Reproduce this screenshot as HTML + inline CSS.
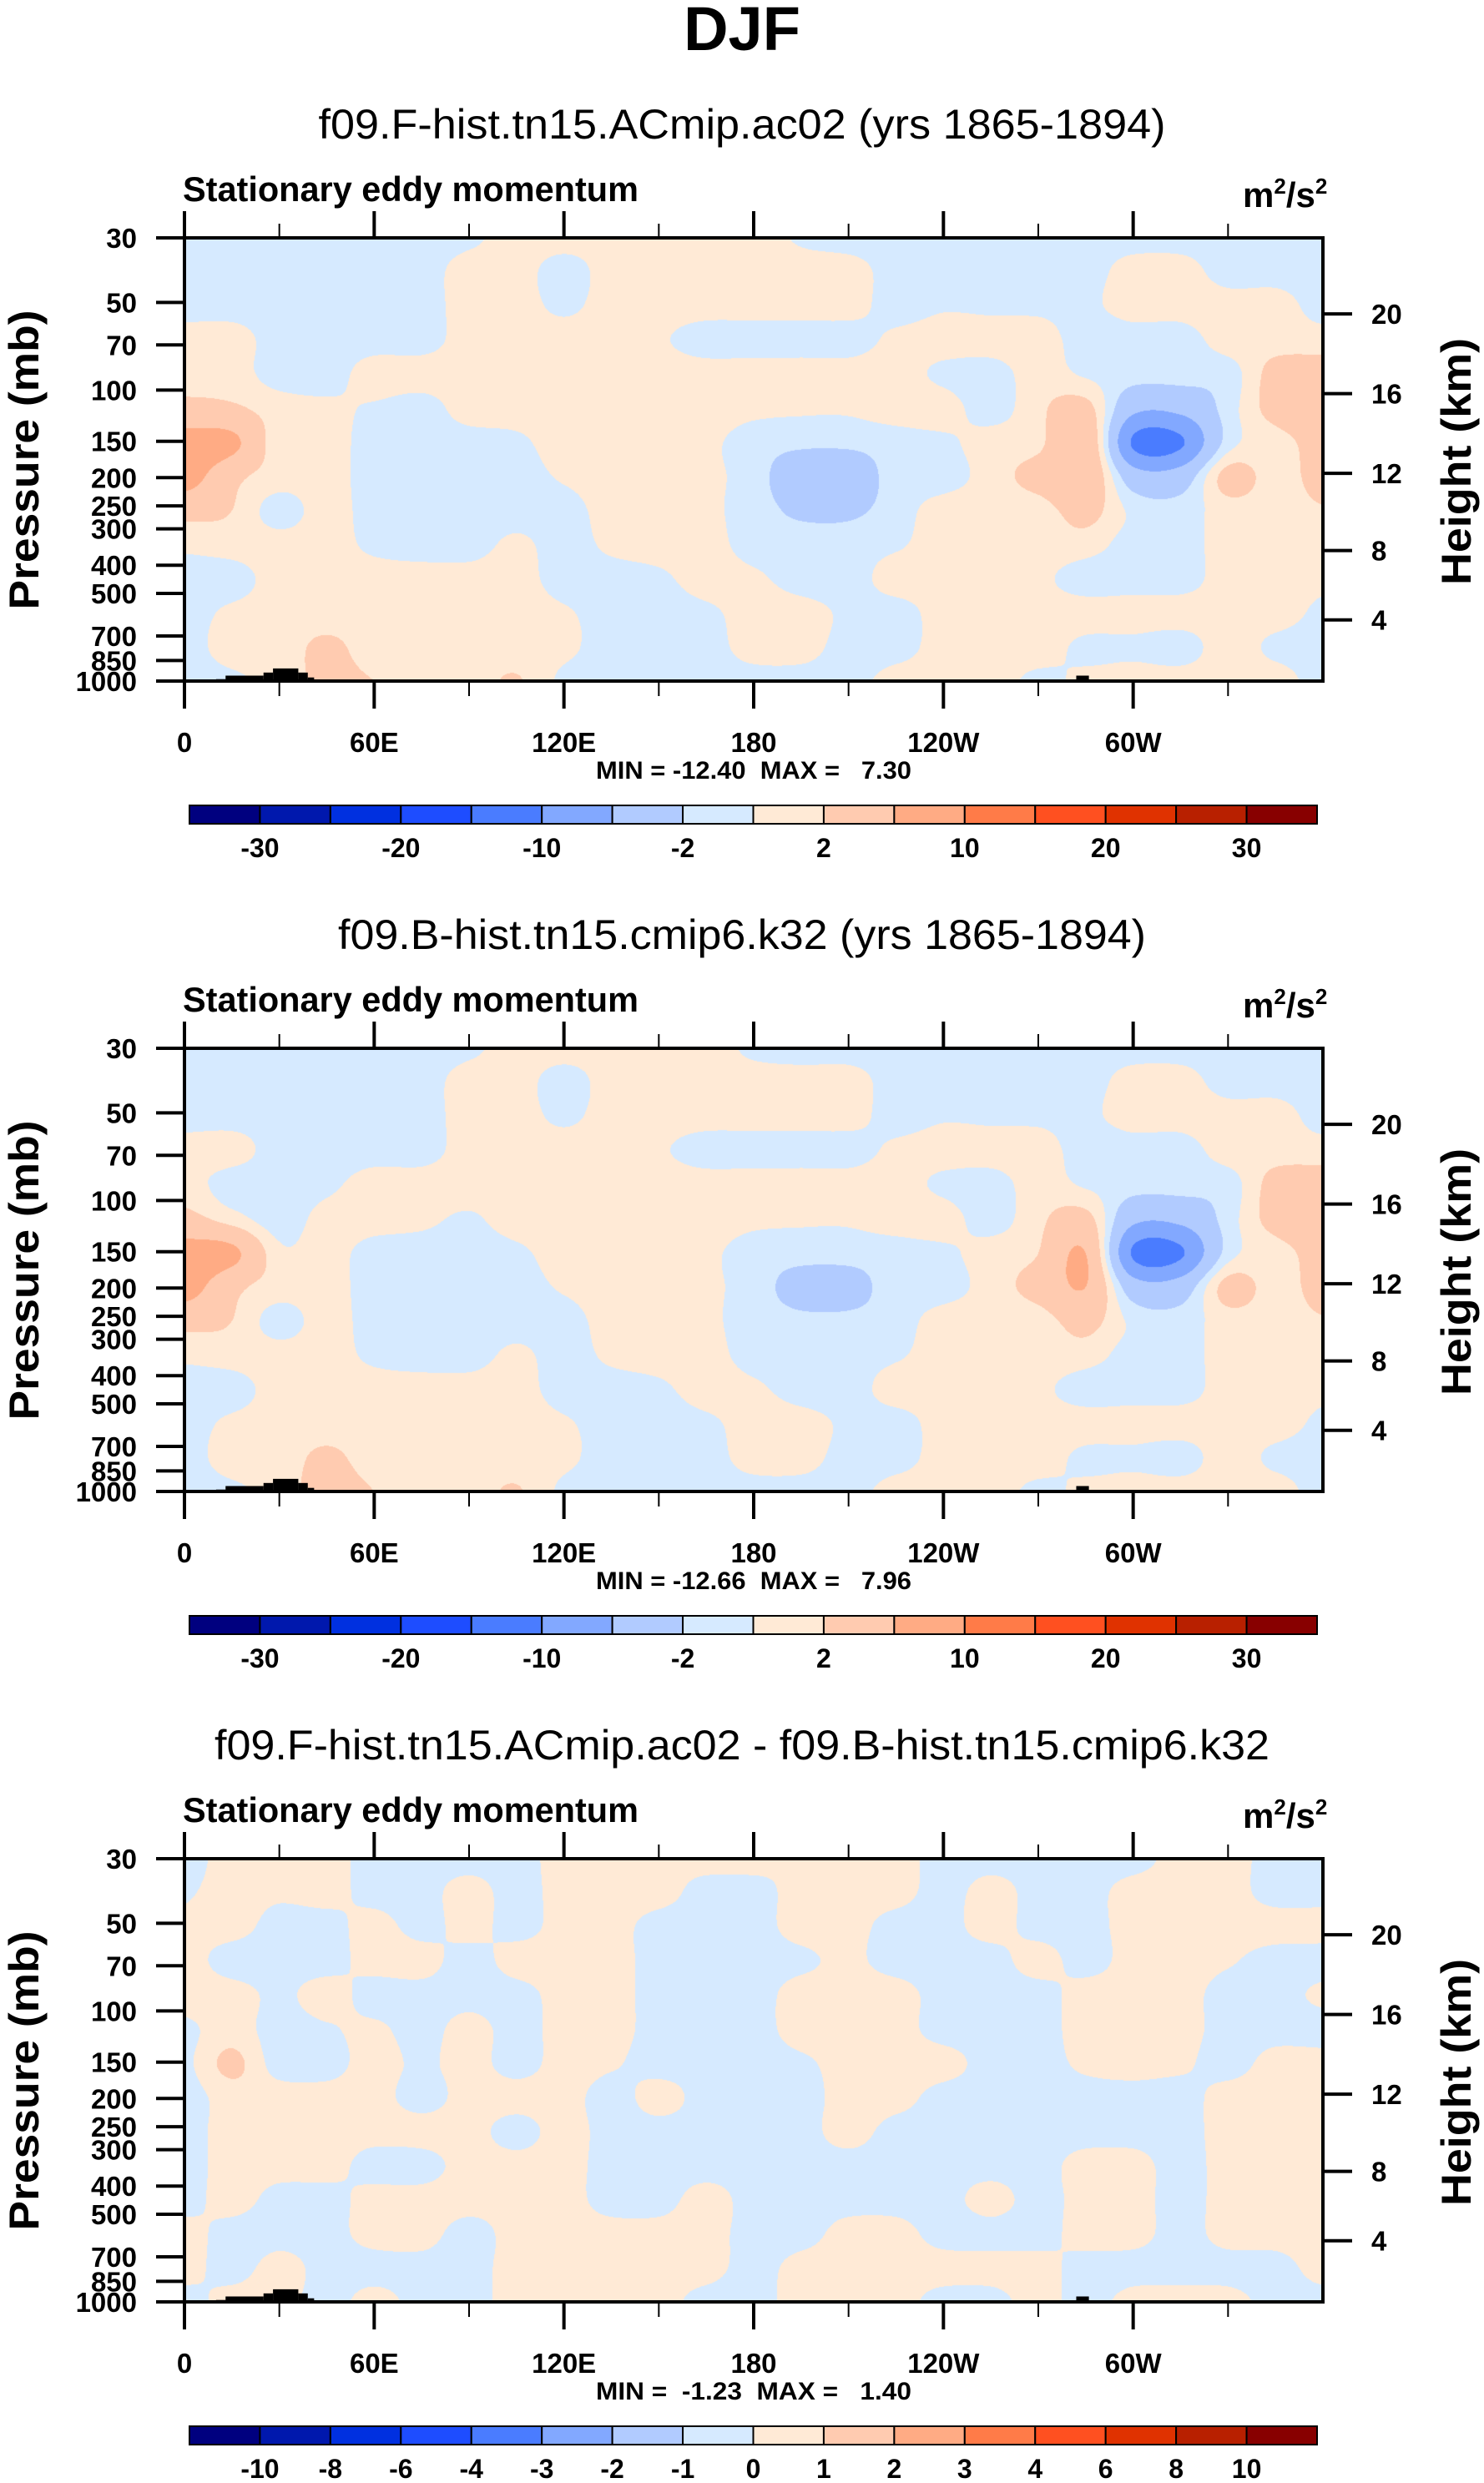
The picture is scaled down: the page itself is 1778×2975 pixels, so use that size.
<!DOCTYPE html>
<html><head><meta charset="utf-8"><title>DJF Stationary eddy momentum</title>
<style>
html,body{margin:0;padding:0;background:#fff;}
#page{position:relative;width:1778px;height:2975px;overflow:hidden;background:#fff;}
canvas{position:absolute;}
svg{position:absolute;left:0;top:0;}
text{font-family:"Liberation Sans",Arial,sans-serif;fill:#000;}
</style></head>
<body>
<div id="page">
<canvas id="c0"></canvas>
<canvas id="c1"></canvas>
<canvas id="c2"></canvas>
<svg id="ov" width="1778" height="2975" xmlns="http://www.w3.org/2000/svg">
<text x="889" y="60" text-anchor="middle" font-size="74" font-weight="bold">DJF</text>
</svg>
</div>
<script>
// ---------- data ----------
const gridLon = [0,15,30,45,60,75,90,105,120,135,150,165,180,195,210,225,240,255,270,285,300,315,330,345,360];
const gridP = [30,39,51,67,88,116,152,198,260,340,446,584,765,1000];

const valuesAc02 = [
[-1,-1,-1,-1,-1,-1,-0.5,1,1,1,1,1,1,-0.3,-1,-1,-1,-1,-1,-1,-1,-1,-1,-1,-1],
[-1,-1,-1,-1,-1,-1,1,1,-1,1,1,1,1,1,1,-1,-1,-1,-1,-1,1,1,-1,-1,-1],
[-1,-1,-1,-1,-1,-1,1,1,-0.5,1,1,1,1,1,1,-1,-0.3,-0.5,-0.5,-0.5,1,1,1,1,-1],
[1,1,-1,-1,-1,-1,1,1,1,1,0.3,-1,-1,-1,-1,0.5,1,1,1,-1,-1,-1,1,1,1],
[1,1,-1,-1,1,1,1,1,1,1,1,1,1,1,1,1,-0.5,-1,1,-0.3,-1,-1,-1,3,3],
[3,2.5,1,0.5,-0.3,-1,1,1,1,1,1,1,0.5,0.3,0.3,1,1,-1,1.5,3,-5,-5,-1,3,3],
[8,7,0.5,1,-1,-1,-1,-0.5,1,0.5,1,0.5,-1,-1.5,-1.5,-1,-0.5,1,1.5,5,-10.5,-10.5,-1,1,3],
[8,3,1,1,-1,-1,-1,-1,0.3,1,1,0.5,-1,-4,-4,-1,-1,1,3,5,-4,-4,3,1,3],
[3,2,-1,1,-1,-1,-1,-1,-1,1,1,0.5,-1,-2.5,-2.5,-1,1,1,1,3,-0.5,-1,1,1,1.8],
[0.5,1,1,1,-0.5,-1,-1,0.5,-1,0.5,1,1,-1,-1,-1,-0.3,1,1,1,1,-1,-1,1,1,1],
[-1,-1,1,1,1,1,1,1,-1,-1,-0.5,1,0.5,-1,-1,1,1,1,0.5,-1,-1,-1,1,1,0.5],
[-1,0.5,1,1,1,1,1,1,0.3,-1,-1,-0.5,1,1,-0.5,-1,1,1,1,1,1,1,1,1,-0.5],
[-1,1,1,2.5,1,1,1,1,0.5,-1,-1,-1,1,1,-1,-1,1,1,1,-0.5,-0.5,-1,1,-0.5,-1],
[-1,-0.5,1,2.5,2,1,1,2.2,-0.5,-1,-1,-1,-1,-1,-1,1,1,1,-0.5,0.5,1,1,1,1,-1]
];

const valuesCmip6 = [
[-1,-1,-1,-1,-1,-1,-0.5,1,1,1,0.5,1,-0.5,-1,-1,-1,-1,-1,-1,-1,-1,-1,-1,-1,-1],
[-1,-1,-1,-1,-1,-1,1,1,-1,1,1,1,1,1,1,-1,-1,-1,-1,-1,1,1,-1,-1,-1],
[-1,-1,-1,-1,-1,-1,1,1,-0.5,1,1,1,1,1,1,-1,-0.3,-0.5,-0.5,-0.5,1,1,1,1,-1],
[1,1,-1,-1,-1,-1,1,1,1,1,0.3,-1,-1,-1,-1,0.5,1,1,1,-1,-1,-1,1,1,1],
[1,-1,-1,-0.5,1,1,1,1,1,1,1,1,1,1,1,1,-0.5,-1,1,-0.3,-1,-1,-1,3,3],
[3,1,-1,0.8,1,0.5,-0.3,1,1,1,1,1,0.5,0.3,0.3,1,1,-1,1.5,3,-5,-5,-1,3,3],
[8,7,0.5,1,-1,-1,-1,-0.5,1,0.5,1,0.5,-1,-1.2,-1.2,-1,-0.5,1,2,6,-10.5,-10.5,-1,1,3],
[8,3,1,1,-1,-1,-1,-1,0.3,1,1,0.5,-1,-3,-3,-1,-1,1,3,6,-4,-4,3,1,3],
[3,2,-1,1,-1,-1,-1,-1,-1,1,1,0.5,-1,-1.5,-1.5,-1,1,1,1,3,-0.5,-1,1,1,1.8],
[0.5,1,1,1,-0.5,-1,-1,0.5,-1,0.5,1,1,-1,-1,-1,-0.3,1,1,1,1,-1,-1,1,1,1],
[-1,-1,1,1,1,1,1,1,-1,-1,-0.5,1,0.5,-1,-1,1,1,1,0.5,-1,-1,-1,1,1,0.5],
[-1,0.5,1,1,1,1,1,1,0.3,-1,-1,-0.5,1,1,-0.5,-1,1,1,1,1,1,1,1,1,-0.5],
[-1,1,1,2.5,1,1,1,1,0.5,-1,-1,-1,1,1,-1,-1,1,1,1,-0.5,-0.5,-1,1,-0.5,-1],
[-1,-0.5,1,3,2,1,1,2.2,-0.5,-1,-1,-1,-1,-1,-1,1,1,1,-0.5,0.5,1,1,1,1,-1]
];

const valuesDiff = [
[-0.5,0.5,0.5,0.5,-0.5,-0.5,-0.5,-0.5,0.5,0.5,0.25,0.5,0.5,0,0.5,0.5,-0.5,-0.5,-0.5,-0.5,-0.5,0.5,0.5,-0.5,-0.5],
[-0.15,0.5,0.25,0.5,-0.5,-0.5,0.5,-0.5,0.5,0.5,0.5,-0.5,-0.5,0.5,0.5,0.5,-0.5,0.5,-0.5,-0.5,0.5,0.5,0.5,-0.5,-0.5],
[0.25,0.5,-0.5,-0.5,0.5,-0.5,0.5,-0.5,0.5,0.5,-0.5,-0.5,-0.5,0.5,0.5,-0.5,-0.5,0.5,-0.5,-0.5,0.5,0.5,0.5,0.5,0.5],
[0.5,-0.5,-0.5,-0.5,0.5,0.5,-0.5,0.5,0.5,0.5,-0.5,-0.5,-0.5,-0.25,0.25,-0.5,-0.5,-0.5,0.5,-0.5,0.5,0.5,0.15,-0.5,-0.5],
[0.5,0.5,-0.25,0.5,-0.5,-0.5,-0.5,-0.5,0.5,0.5,-0.5,-0.5,-0.5,0.5,0.5,0.5,-0.5,-0.5,-0.5,0.5,0.5,0.5,-0.5,-0.5,0.25],
[-0.25,0.5,-0.5,-0.15,0.25,-0.5,0.5,-0.5,0.5,0.5,-0.5,-0.5,-0.5,0.5,0.5,0.5,-0.5,-0.5,-0.5,0.5,0.5,0.5,-0.5,-0.5,-0.5],
[-0.25,1.3,-0.5,-0.5,0.5,-0.25,0.5,-0.5,0.5,0.15,-0.5,-0.5,-0.5,-0.25,0.5,0.5,0.5,-0.5,-0.5,0.25,0.5,0.25,-0.5,0.5,0.5],
[-0.5,0.5,0.5,0.5,0.5,-0.5,0.5,0.5,0.5,-0.5,0.5,-0.5,-0.5,-0.5,0.5,0.5,-0.5,-0.5,-0.5,-0.5,-0.5,-0.5,0.5,0.5,0.5],
[-0.5,0.5,0.25,0.5,0.5,0.5,0.5,-0.5,0.5,-0.5,-0.5,-0.5,-0.5,-0.5,0.5,-0.5,-0.5,-0.5,-0.5,-0.5,-0.5,-0.5,0.5,0.5,0.5],
[-0.5,0.5,0.5,0.5,-0.5,-0.5,0.5,0.5,0.5,-0.5,-0.5,-0.5,-0.5,-0.5,-0.5,-0.5,-0.5,-0.5,-0.5,0.5,0.5,-0.5,0.5,0.5,0.5],
[-0.5,0.5,-0.5,-0.5,0.5,0.5,0.5,0.5,0.5,-0.5,-0.5,0.5,-0.5,-0.5,-0.5,-0.5,-0.5,0.5,-0.5,0.5,0.5,-0.5,0.5,0.5,0.5],
[0.5,-0.5,-0.5,-0.5,0.5,0.5,-0.5,0.5,0.5,0.5,0.5,0.5,-0.5,-0.5,0.5,0.5,-0.5,-0.5,-0.5,0.5,0.5,-0.5,0.5,0.5,0.5],
[0.5,-0.5,0.5,-0.5,-0.5,-0.5,-0.5,0.5,0.5,0.5,0.5,0.5,-0.5,0.5,0.5,0.5,0.5,0.5,0.5,-0.5,-0.5,-0.5,-0.5,-0.5,0.5],
[-0.5,0.5,0.5,-0.5,0.5,-0.5,-0.5,0.5,0.5,0.5,0.5,-0.5,-0.5,0.5,0.5,0.5,-0.5,-0.5,0.5,-0.5,0.5,0.5,0.5,-0.5,-0.5]
];

const levelsMain = [-30,-25,-20,-15,-10,-6,-2,0,2,6,10,15,20,25,30];
const levelsDiff = [-10,-8,-6,-4,-3,-2,-1,0,1,2,3,4,6,8,10];
const labelIdxMain = [0,2,4,6,8,10,12,14];
const labelIdxDiff = [0,1,2,3,4,5,6,7,8,9,10,11,12,13,14];
const fillColors = ['#00007f','#0018ad','#0030e0','#1e4dff','#4a7cff','#82a8ff','#b1cbff','#d6eaff','#ffead6','#ffcbb0','#ffab84','#ff7b48','#ff5020','#e03200','#b82000','#880000'];

const topoStart = [10,13,25,28,36,39,100,112,282,286];
const topoEnd   = [13,25,28,36,39,41,102,167,286,310];
const topoP     = [985,958,935,905,935,972,990,994,958,994];

const pressTicks = [30,50,70,100,150,200,250,300,400,500,700,850,1000];
const lonMajor = [0,60,120,180,240,300];
const lonLabels = ['0','60E','120E','180','120W','60W'];
const lonMinor = [30,90,150,210,270,330];
const heightTicks = [4,8,12,16,20];

const subtitles = ['f09.F-hist.tn15.ACmip.ac02 (yrs 1865-1894)','f09.B-hist.tn15.cmip6.k32 (yrs 1865-1894)','f09.F-hist.tn15.ACmip.ac02 - f09.B-hist.tn15.cmip6.k32'];
const subtitleW = [1015,968,1264];
const minMax = ['MIN = -12.40  MAX =   7.30','MIN = -12.66  MAX =   7.96','MIN =  -1.23  MAX =   1.40'];

// ---------- layout ----------
const X0=221, W=1364, H=531, DY=971, TOP0=285;
const LP = Math.log10(1000/30);
function yOfP(p,off){return TOP0+off+H*Math.log10(p/30)/LP;}
function xOfLon(l){return X0+W*l/360;}
function pOfZ(km){const z=km*1000; if(z<=11000) return 1013.25*Math.pow(1-2.25577e-5*z,5.25588); return 226.32*Math.exp(-(z-11000)/6341.6);}
function hex(c){return [parseInt(c.substr(1,2),16),parseInt(c.substr(3,2),16),parseInt(c.substr(5,2),16)];}
const rgb = fillColors.map(hex);

function cr(p0,p1,p2,p3,t){
  return 0.5*((2*p1)+(-p0+p2)*t+(2*p0-5*p1+4*p2-p3)*t*t+(-p0+3*p1-3*p2+p3)*t*t*t);
}

function drawField(id, vals, levels, off){
  const cv=document.getElementById(id);
  cv.width=W; cv.height=H; cv.style.left=X0+'px'; cv.style.top=(TOP0+off)+'px';
  const ctx=cv.getContext('2d');
  const img=ctx.createImageData(W,H);
  const lg=gridP.map(p=>Math.log10(p));
  const nR=vals.length, nC=vals[0].length;
  const rowI=new Int32Array(H), rowF=new Float32Array(H);
  for(let py=0;py<H;py++){
    const lp=Math.log10(30)+(py+0.5)/H*LP;
    let k=0; while(k<lg.length-2 && lp>lg[k+1]) k++;
    rowI[py]=k; rowF[py]=Math.min(1,Math.max(0,(lp-lg[k])/(lg[k+1]-lg[k])));
  }
  const colI=new Int32Array(W), colF=new Float32Array(W);
  for(let px=0;px<W;px++){
    const lon=(px+0.5)/W*360;
    let k=0; while(k<gridLon.length-2 && lon>gridLon[k+1]) k++;
    colI[px]=k; colF[px]=(lon-gridLon[k])/(gridLon[k+1]-gridLon[k]);
  }
  const R=r=>Math.min(nR-1,Math.max(0,r));
  const C=c=>Math.min(nC-1,Math.max(0,c));
  const tmp=[0,0,0,0];
  for(let py=0;py<H;py++){
    const r=rowI[py], fy=rowF[py];
    const rows=[vals[R(r-1)],vals[r],vals[R(r+1)],vals[R(r+2)]];
    for(let px=0;px<W;px++){
      const c=colI[px], fx=colF[px];
      const c0=C(c-1),c1=c,c2=C(c+1),c3=C(c+2);
      for(let j=0;j<4;j++){const a=rows[j]; tmp[j]=cr(a[c0],a[c1],a[c2],a[c3],fx);}
      const v=cr(tmp[0],tmp[1],tmp[2],tmp[3],fy);
      let ci=0; while(ci<levels.length && v>=levels[ci]) ci++;
      const col=rgb[ci], o=(py*W+px)*4;
      img.data[o]=col[0]; img.data[o+1]=col[1]; img.data[o+2]=col[2]; img.data[o+3]=255;
    }
  }
  ctx.putImageData(img,0,0);
}

const NS='http://www.w3.org/2000/svg';
const ov=document.getElementById('ov');
function mk(tag,attrs,parent){const e=document.createElementNS(NS,tag);for(const k in attrs)e.setAttribute(k,attrs[k]);(parent||ov).appendChild(e);return e;}
function txt(s,attrs,parent){const e=mk('text',attrs,parent);e.textContent=s;return e;}

function drawPanel(i){
  const off=i*DY;
  const g=mk('g',{});
  
  
  const levels = i===2?levelsDiff:levelsMain;
  const labIdx = i===2?labelIdxDiff:labelIdxMain;
  for(let k=0;k<topoStart.length;k++){
    const x1=xOfLon(topoStart[k]), x2=xOfLon(topoEnd[k]), y=yOfP(topoP[k],off);
    const r=mk('rect',{x:x1,y:y,width:x2-x1,height:TOP0+off+H-y,fill:'#000'},g);
    
    
  }
  const st=txt(subtitles[i],{x:889,y:166+off,'text-anchor':'middle','font-size':50,textLength:subtitleW[i],lengthAdjust:'spacingAndGlyphs'},g);
  
  
  const lt=txt('Stationary eddy momentum',{x:219,y:241+off,'font-size':42,'font-weight':'bold',textLength:546,lengthAdjust:'spacingAndGlyphs'},g);
  
  
  const un=mk('text',{x:1489,y:248+off,'font-size':42,'font-weight':'bold'},g);
  
  
  un.innerHTML='m<tspan dy="-16" font-size="26">2</tspan><tspan dy="16">/s</tspan><tspan dy="-16" font-size="26">2</tspan>';
  pressTicks.forEach(p=>{
    const y=yOfP(p,off);
    const t=mk('line',{x1:187,x2:X0,y1:y,y2:y,stroke:'#000','stroke-width':4},g);
    
    
    const l=txt(String(p),{x:164,y:y+12,'text-anchor':'end','font-size':33,'font-weight':'bold'},g);
    
    
  });
  lonMajor.forEach((lo,k)=>{
    const x=xOfLon(lo);
    const t1=mk('line',{x1:x,x2:x,y1:TOP0+off-32,y2:TOP0+off,stroke:'#000','stroke-width':4},g);
    
    
    const t2=mk('line',{x1:x,x2:x,y1:TOP0+off+H,y2:TOP0+off+H+33,stroke:'#000','stroke-width':4},g);
    
    
    const l=txt(lonLabels[k],{x:x,y:901+off,'text-anchor':'middle','font-size':33,'font-weight':'bold'},g);
    
    
  });
  lonMinor.forEach(lo=>{
    const x=xOfLon(lo);
    const t1=mk('line',{x1:x,x2:x,y1:TOP0+off-17,y2:TOP0+off,stroke:'#000','stroke-width':2},g);
    
    
    const t2=mk('line',{x1:x,x2:x,y1:TOP0+off+H,y2:TOP0+off+H+18,stroke:'#000','stroke-width':2},g);
    
    
  });
  heightTicks.forEach(h=>{
    const y=yOfP(pOfZ(h),off);
    const t=mk('line',{x1:X0+W,x2:1620,y1:y,y2:y,stroke:'#000','stroke-width':4},g);
    
    
    const l=txt(String(h),{x:1643,y:y+12,'font-size':33,'font-weight':'bold'},g);
    
    
  });
  const b=mk('rect',{x:X0,y:TOP0+off,width:W,height:H,fill:'none',stroke:'#000','stroke-width':4},g);
  
  
  const pt=txt('Pressure (mb)',{x:0,y:0,'text-anchor':'middle','font-size':50,'font-weight':'bold',textLength:359,lengthAdjust:'spacingAndGlyphs',transform:'translate(46,'+(551+off)+') rotate(-90)'},g);
  
  
  const ht=txt('Height (km)',{x:0,y:0,'text-anchor':'middle','font-size':50,'font-weight':'bold',textLength:296,lengthAdjust:'spacingAndGlyphs',transform:'translate(1762,'+(553+off)+') rotate(-90)'},g);
  
  
  const mm=txt(minMax[i],{x:903,y:933+off,'text-anchor':'middle','font-size':30,'font-weight':'bold','xml:space':'preserve',style:'white-space:pre',textLength:378,lengthAdjust:'spacingAndGlyphs'},g);
  
  
  const cx0=227, cx1=1578, cy=965+off, ch=22, bw=(cx1-cx0)/fillColors.length;
  fillColors.forEach((c,k)=>{
    const r=mk('rect',{x:cx0+k*bw,y:cy,width:bw,height:ch,fill:c,stroke:'#000','stroke-width':2},g);
    
    
  });
  labIdx.forEach(k=>{
    const l=txt(String(levels[k]),{x:cx0+(k+1)*bw,y:1027+off,'text-anchor':'middle','font-size':32,'font-weight':'bold'},g);
    
    
  });
}

drawField('c0',valuesAc02,levelsMain,0);
drawField('c1',valuesCmip6,levelsMain,DY);
drawField('c2',valuesDiff,levelsDiff,2*DY);
[0,1,2].forEach(drawPanel);
</script>
</body></html>
